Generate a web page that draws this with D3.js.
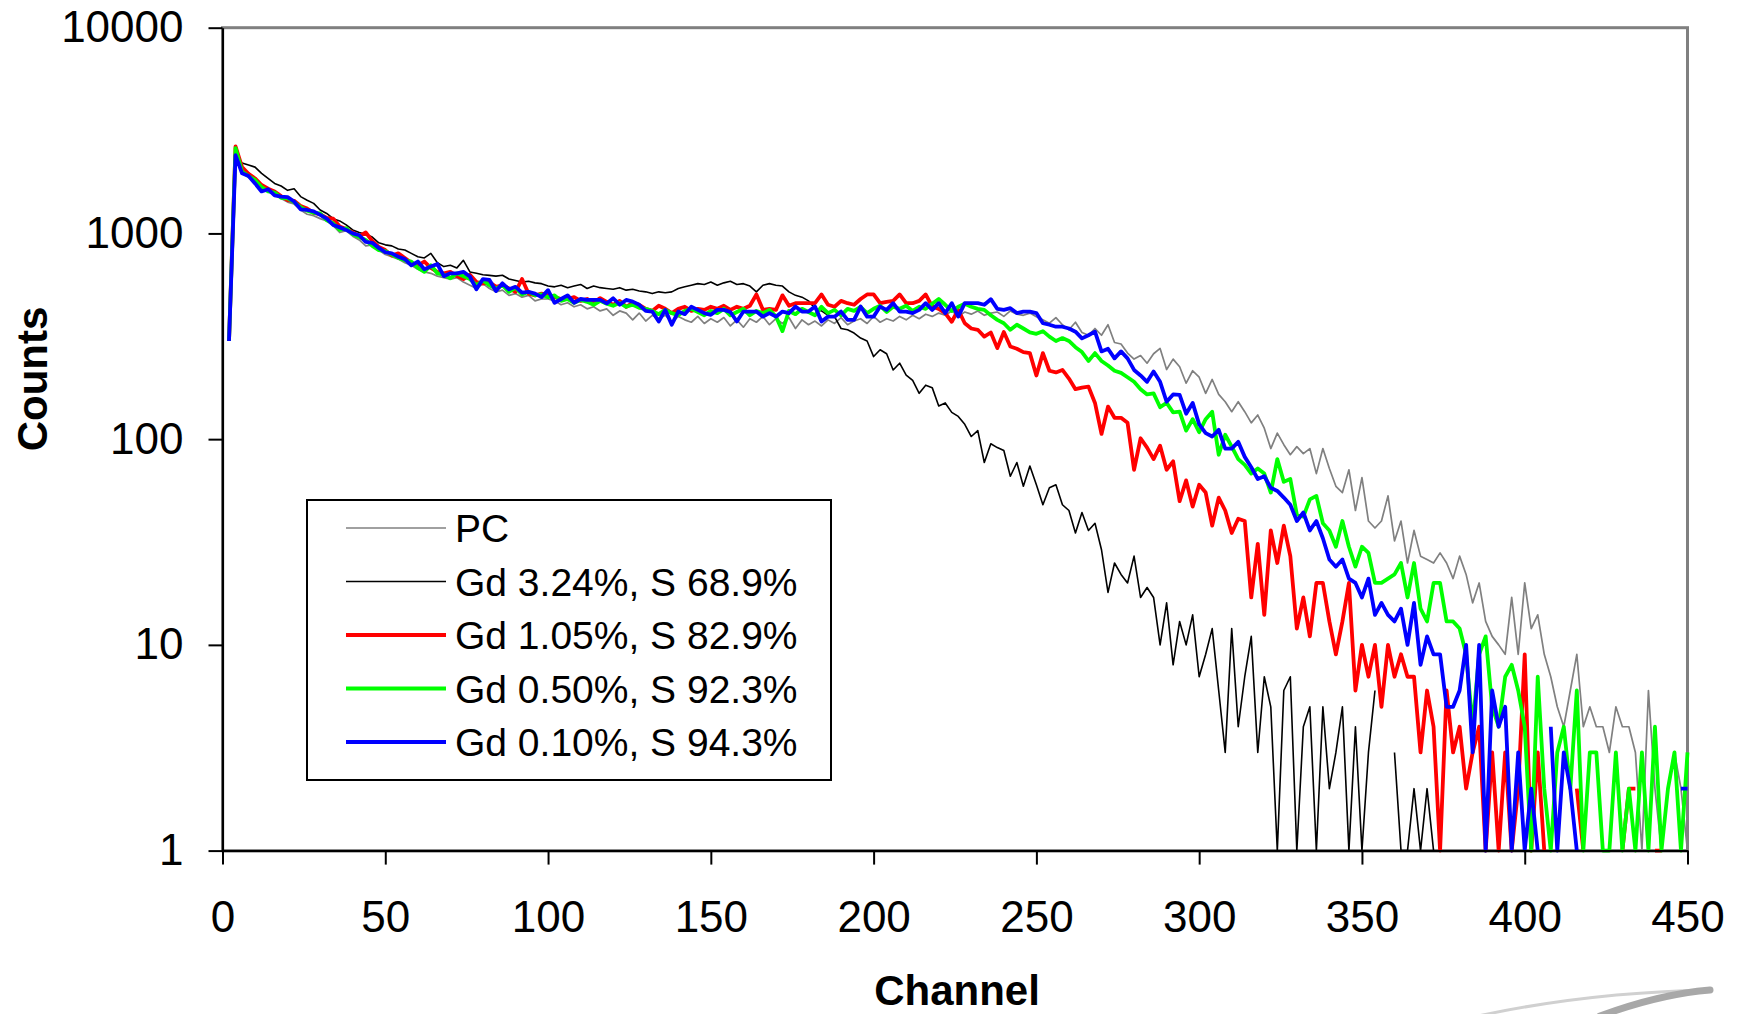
<!DOCTYPE html>
<html>
<head>
<meta charset="utf-8">
<script src="https://cdn.jsdelivr.net/npm/d3@7"></script>
<style>
  body { margin: 0; background: #fff; }
  svg { display: block; }
  text { font-family: "Liberation Sans", Arial, sans-serif; fill: #000; }
</style>
</head>
<body>
<svg id="chart"></svg>
<script>
// Canaux (pas de 2) et comptages ; null = 0 coup (trou dans la courbe)
const channels = d3.range(2, 451, 2);

const pc = [
  300, 2500, 2050, 1900, 1800, 1680, 1620, 1540, 1480, 1420,
  1390, 1300, 1240, 1220, 1180, 1150, 1090, 1010, 1030, 970,
  930, 870, 880, 830, 790, 770, 750, 720, 700, 670,
  650, 640, 620, 610, 600, 610, 580, 560, 540, 570,
  540, 520, 530, 500, 510, 490, 500, 470, 480, 480,
  470, 450, 460, 440, 450, 430, 440, 420, 430, 400,
  420, 410, 380, 410, 375, 400, 385, 400, 370, 395,
  380, 370, 395, 365, 385, 370, 390, 355, 380, 350,
  385, 370, 395, 360, 385, 365, 390, 345, 380, 360,
  375, 355, 380, 365, 390, 360, 375, 385, 365, 395,
  370, 385, 375, 395, 380, 400, 385, 405, 395, 410,
  400, 420, 395, 415, 405, 420, 400, 410, 415, 395,
  420, 405, 400, 410, 394, 380, 366, 390, 360, 340,
  370, 330, 320, 345, 320, 360, 295, 290, 262, 245,
  255, 234, 260, 276, 218, 245, 225, 187, 215, 200,
  167, 195, 165, 152, 136, 152, 136, 120, 131, 113,
  90, 107, 94, 84, 92, 85, 90, 68, 90, 72,
  59, 55, 71, 45, 65, 40, 37, 40, 53, 32,
  40, 25, 36, 27, 26, 25, 28, 25, 21, 27,
  22, 16, 20, 13, 11, 10, 9, 17, 9, 20,
  12, 14, 9, 7, 5, 4, 6, 9, 4, 5,
  4, 4, 3, 5, 4, 4, 3, 1, 6, 2,
  1, 2, 3, 2, 1
];

const gd324 = [
  300, 2300, 2200, 2150, 2100, 1960, 1850, 1750, 1700, 1620,
  1650, 1510, 1450, 1400, 1300, 1250, 1180, 1150, 1100, 1040,
  1010, 990, 960, 900, 880, 870, 840, 830, 800, 770,
  760, 800, 720, 690, 700, 680, 740, 650, 640, 630,
  625, 620, 626, 600, 590, 580, 585, 575, 570, 555,
  550, 560, 545, 555, 565, 540, 555, 545, 540, 535,
  545, 530, 535, 525, 520, 510, 520, 515, 520, 540,
  550, 560, 570, 565, 580, 560, 575, 585, 565, 570,
  555, 520, 560, 570, 560, 555, 520, 500, 490, 470,
  432, 420, 400, 394, 345, 340, 328, 310, 300, 252,
  272, 260, 217, 234, 205, 193, 167, 183, 178, 145,
  150, 135, 129, 118, 103, 110, 77, 95, 91, 88,
  66, 77, 59, 74, 60, 48, 58, 60, 48, 45,
  35, 44, 36, 39, 29, 18, 25, 22, 20, 27,
  17, 19, 17, 10, 16, 8, 13, 10, 14, 7,
  9, 12, 6, 3, 12, 4, 7, 11, 3, 7,
  5, 1, 6, 7, 1, 4, 5, 1, 5, 2,
  3, 5, 1, 4, 1, 3, 6, null, null, 3,
  1, 1, 2, 1, 2, 1, null, null, null, null,
  null, null, null, null, null, null, null, null, null, null,
  null, null, null, null, null, null, null, null, null, null,
  null, null, null, null, null, null, null, null, null, null,
  null, null, null, null, null
];

const gd105 = [
  300, 2650, 2100, 1950, 1850, 1720, 1650, 1600, 1520, 1450,
  1440, 1360, 1320, 1260, 1240, 1190, 1180, 1080, 1050, 1010,
  970, 1010, 920, 860, 830, 780, 800, 760, 720, 700,
  730, 680, 650, 640, 650, 620, 600, 630, 580, 570,
  580, 550, 560, 540, 520, 600, 510, 500, 510, 500,
  490, 480, 480, 490, 470, 480, 460, 485, 465, 450,
  470, 440, 460, 450, 430, 420, 445, 430, 410, 430,
  440, 420, 430, 425, 440, 430, 445, 425, 440, 430,
  445, 505, 425, 430, 425, 500, 445, 458, 458, 458,
  458, 505, 450, 440, 470, 458, 450, 480, 505, 505,
  458, 465, 470, 505, 458, 458, 470, 505, 441, 430,
  410, 372, 425, 366, 345, 340, 315, 330, 277, 332,
  282, 275, 265, 262, 204, 262, 215, 211, 217, 197,
  175, 178, 180, 150, 106, 144, 127, 127, 120, 71,
  101, 91, 80, 93, 71, 78, 50, 63, 47, 60,
  55, 38, 52, 45, 35, 41, 40, 17, 31, 14,
  36, 25, 38, 27, 12, 17, 11, 20, 20, 13,
  9, 13, 20, 6, 10, 7, 10, 5, 10, 7,
  9, 7, 7, 3, 6, 4, 1, 6, 3, 4,
  2, 3, 4, 1, 3, 1, 3, 1, 2, 9,
  1, 3, 1, null, null, null, null, 2, 1, null,
  null, null, null, null, 1, 2, 2, null, null, 1,
  1, null, null, null, null
];

const gd050 = [
  300, 2600, 2000, 1900, 1820, 1680, 1600, 1580, 1490, 1480,
  1420, 1340, 1290, 1260, 1250, 1160, 1120, 1040, 1060, 990,
  960, 930, 870, 830, 820, 790, 760, 740, 730, 680,
  650, 700, 640, 630, 605, 640, 620, 600, 560, 590,
  560, 540, 560, 520, 545, 505, 520, 500, 505, 490,
  500, 470, 480, 460, 475, 465, 450, 470, 455, 445,
  460, 440, 450, 435, 430, 420, 405, 425, 410, 400,
  420, 430, 415, 400, 420, 410, 430, 400, 415, 430,
  400, 420, 410, 425, 395, 335, 420, 405, 430, 415,
  400, 440, 410, 425, 400, 430, 420, 440, 410, 430,
  445, 415, 440, 430, 445, 420, 440, 430, 455, 480,
  450, 420, 440, 455, 440, 430, 425, 400, 380, 366,
  340, 360, 345, 330, 325, 335, 315, 300, 310, 300,
  280, 265, 240, 262, 240, 228, 215, 210, 200, 190,
  175, 165, 167, 143, 150, 135, 136, 110, 125, 108,
  125, 136, 84, 105, 92, 80, 75, 68, 72, 68,
  55, 80, 62, 64, 43, 42, 51, 53, 39, 36,
  30, 40, 30, 24, 30, 28, 20, 20, 21, 22,
  25, 17, 25, 15, 13, 20, 20, 13, 13, 12,
  9, 4, 9, 11, 5, 4, 7, 8, 6, 4,
  1, 7, 2, 1, 3, 4, 2, 6, 1, 3,
  3, 1, 1, 3, 1, 2, 1, 3, 1, 4,
  1, 2, 3, 1, 3
];

const gd010 = [
  300, 2400, 1960, 1900, 1750, 1600, 1640, 1530, 1510, 1500,
  1430, 1310, 1300, 1280, 1230, 1180, 1100, 1070, 1040, 1000,
  980, 910, 900, 850, 810, 800, 770, 750, 700, 730,
  670, 690, 710, 620, 640, 640, 650, 617, 535, 600,
  594, 525, 572, 535, 550, 515, 520, 510, 490, 530,
  460, 480, 500, 460, 480, 475, 475, 475, 457, 484,
  450, 475, 466, 450, 420, 417, 373, 425, 360, 417,
  405, 440, 425, 410, 402, 425, 425, 415, 373, 417,
  417, 417, 394, 410, 394, 417, 410, 441, 417, 417,
  441, 373, 394, 394, 417, 380, 380, 441, 394, 394,
  441, 425, 458, 417, 417, 410, 425, 458, 425, 458,
  410, 458, 394, 458, 458, 458, 450, 479, 430, 425,
  433, 410, 417, 417, 410, 366, 360, 352, 352, 345,
  333, 309, 320, 333, 267, 275, 247, 267, 247, 217,
  204, 190, 213, 190, 152, 165, 164, 133, 150, 118,
  107, 103, 111, 90, 90, 97, 82, 73, 64, 66,
  58, 56, 52, 48, 40, 44, 36, 40, 33, 26,
  24, 26, 21, 20, 17, 21, 14, 16, 14, 13,
  15, 10, 16, 8, 11, 9, 9, 5, 5, 6,
  10, 3, 10, 1, 6, 4, 5, 1, 3, 1,
  2, 1, null, 4, 1, 3, 2, 1, null, null,
  null, null, null, null, null, null, null, null, null, null,
  null, null, null, 2, 2
];

const seriesNames = ["PC", "Gd 3.24%, S 68.9%", "Gd 1.05%, S 82.9%", "Gd 0.50%, S 92.3%", "Gd 0.10%, S 94.3%"];
const xTicks = [0, 50, 100, 150, 200, 250, 300, 350, 400, 450];
const yTicks = [1, 10, 100, 1000, 10000];

// Styles des séries
const series = [
  { name: seriesNames[0], values: pc,    color: "#808080", width: 1.7 },
  { name: seriesNames[1], values: gd324, color: "#000000", width: 1.6 },
  { name: seriesNames[2], values: gd105, color: "#ff0000", width: 3.8 },
  { name: seriesNames[3], values: gd050, color: "#00ff00", width: 3.8 },
  { name: seriesNames[4], values: gd010, color: "#0000ff", width: 3.8 }
];

const W = 1739, H = 1014;
const plotLeft = 222.5, plotRight = 1687.5, plotTop = 27.7, plotBottom = 850.6;

const svg = d3.select("#chart")
  .attr("width", W)
  .attr("height", H);

const x = d3.scaleLinear().domain([0, 450]).range([plotLeft, plotRight]);
const y = d3.scaleLog().domain([1, 10000]).range([plotBottom, plotTop]);

// Cadre de la zone de tracé (gris en haut et à droite)
svg.append("rect")
  .attr("x", plotLeft).attr("y", plotTop)
  .attr("width", plotRight - plotLeft).attr("height", plotBottom - plotTop)
  .attr("fill", "none")
  .attr("stroke", "#808080")
  .attr("stroke-width", 3);

// Courbes
const line = d3.line()
  .defined(d => d[1] != null && d[1] > 0)
  .x(d => x(d[0]))
  .y(d => y(d[1]));

const plot = svg.append("g");
series.forEach(s => {
  plot.append("path")
    .datum(channels.map((c, i) => [c, s.values[i]]))
    .attr("d", line)
    .attr("fill", "none")
    .attr("stroke", s.color)
    .attr("stroke-width", s.width)
    .attr("stroke-linejoin", "round");
});

// Axes
const yAxis = d3.axisLeft(y)
  .tickValues(yTicks)
  .tickFormat(d3.format("d"))
  .tickSize(14)
  .tickSizeOuter(0)
  .tickPadding(25);

const xAxis = d3.axisBottom(x)
  .tickValues(xTicks)
  .tickFormat(d3.format("d"))
  .tickSize(14)
  .tickSizeOuter(0)
  .tickPadding(36);

const gy = svg.append("g")
  .attr("transform", `translate(${plotLeft},0)`)
  .call(yAxis);

const gx = svg.append("g")
  .attr("transform", `translate(0,${plotBottom})`)
  .call(xAxis);

[gx, gy].forEach(g => {
  g.select(".domain").attr("stroke", "#000").attr("stroke-width", 2.2);
  g.selectAll(".tick line").attr("stroke", "#000").attr("stroke-width", 2);
  g.selectAll(".tick text")
    .attr("fill", "#000")
    .style("font-family", '"Liberation Sans", Arial, sans-serif')
    .style("font-size", "44px");
});

// Titres des axes
svg.append("text")
  .attr("transform", "translate(47,379) rotate(-90)")
  .attr("text-anchor", "middle")
  .style("font-size", "42px")
  .style("font-weight", "bold")
  .text("Counts");

svg.append("text")
  .attr("x", 957)
  .attr("y", 1005)
  .attr("text-anchor", "middle")
  .style("font-size", "42px")
  .style("font-weight", "bold")
  .text("Channel");

// Légende
const legend = svg.append("g");
legend.append("rect")
  .attr("x", 307).attr("y", 500)
  .attr("width", 524).attr("height", 280)
  .attr("fill", "#fff")
  .attr("stroke", "#000")
  .attr("stroke-width", 2);

series.forEach((s, i) => {
  const ly = 528 + i * 53.5;
  legend.append("line")
    .attr("x1", 346).attr("x2", 446)
    .attr("y1", ly).attr("y2", ly)
    .attr("stroke", s.color)
    .attr("stroke-width", s.width);
  legend.append("text")
    .attr("x", 455)
    .attr("y", ly + 14)
    .style("font-size", "39px")
    .text(s.name);
});

// Petit logo gris en bas à droite
svg.append("path")
  .attr("d", "M1478,1016 Q1590,992 1712,990")
  .attr("fill", "none")
  .attr("stroke", "#d0d0d0")
  .attr("stroke-width", 3);
svg.append("path")
  .attr("d", "M1600,1016 Q1660,994 1710,990")
  .attr("fill", "none")
  .attr("stroke", "#a8a8a8")
  .attr("stroke-width", 7)
  .attr("stroke-linecap", "round");
</script>
</body>
</html>
